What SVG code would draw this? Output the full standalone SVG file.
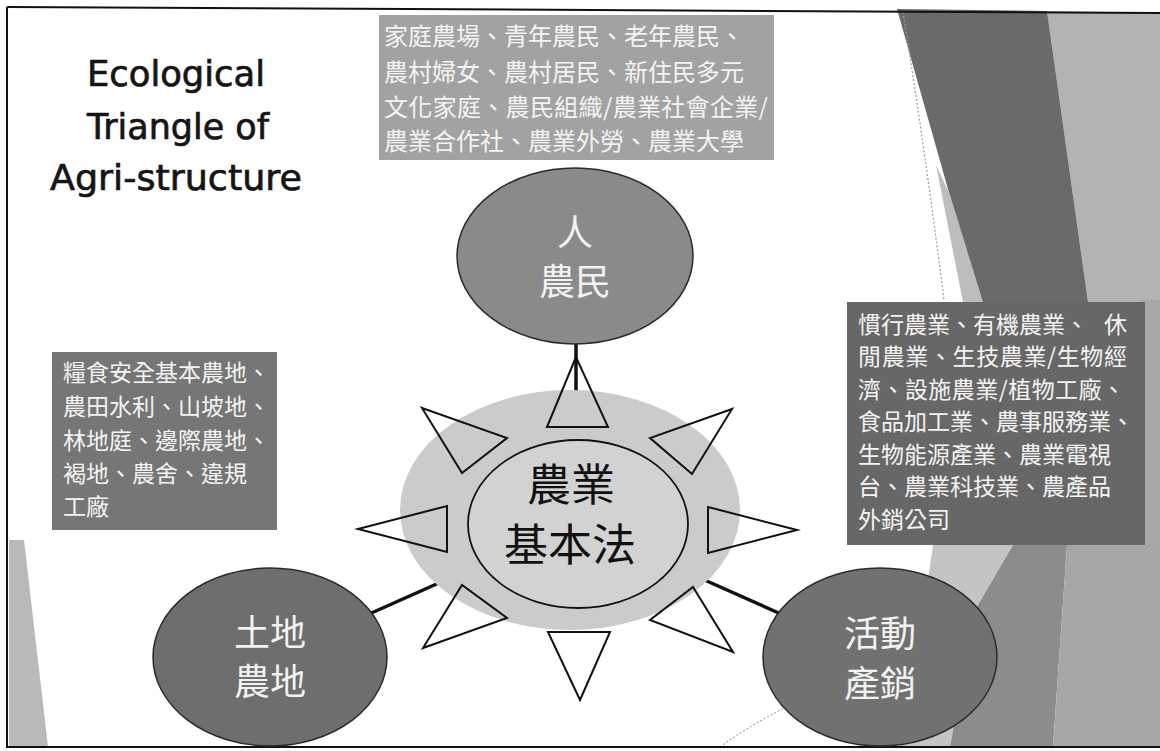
<svg xmlns="http://www.w3.org/2000/svg" width="1160" height="751" viewBox="0 0 1160 751">
<style>
.title{font-family:"DejaVu Sans","Liberation Sans",sans-serif;font-size:35px;fill:#151515;stroke:#151515;stroke-width:0.7;text-anchor:middle}
.cjk{font-family:"Noto Sans CJK TC","Noto Sans CJK SC",sans-serif}
.boxtxt{fill:#f4f4f4}
.lbl{font-family:"Noto Sans CJK TC","Noto Sans CJK SC",sans-serif;font-size:36px;fill:#f2f2f2;text-anchor:middle}
.ctr{font-family:"Noto Sans CJK TC","Noto Sans CJK SC",sans-serif;font-size:44px;fill:#111;text-anchor:middle}
.oval{stroke:#2a2a2a;stroke-width:1.5}
.tri{fill:none;stroke:#111;stroke-width:2;stroke-linejoin:miter}
.conn{stroke:#111;stroke-width:3.5;fill:none}
</style>
<rect width="1160" height="751" fill="#ffffff"/>
<g id="background">
  <polygon points="1047,11 1160,13 1160,302 1088,302" fill="#b3b3b3"/>
  <polygon points="897,9 1047,11 1088,302 980,302" fill="#6a6a6a"/>
  <polygon points="936,165 950,195 983,302 963,302" fill="#bdbdbd"/>
  <polygon points="1140,300 1160,300 1160,548 1140,548" fill="#a8a8a8"/>
  <polygon points="933,545 1013,545 975,610 950,747 900,747 925,600" fill="#c4c4c4"/>
  <polygon points="1013,545 1067,545 1053,747 950,747 975,610" fill="#8c8c8c"/>
  <polygon points="1067,545 1160,545 1160,747 1053,747" fill="#a6a6a6"/>
  <polygon points="9,540 24,540 48,747 9,747" fill="#b9b9b9"/>
  <path d="M903,12 Q925,150 944,300" stroke="#9a9a9a" stroke-width="1.2" stroke-dasharray="2 2" fill="none"/>
  <path d="M720,747 Q750,725 790,705" stroke="#aaaaaa" stroke-width="1.2" stroke-dasharray="2 2" fill="none"/>
</g>
<g id="frame" stroke="#111" stroke-width="2" fill="none">
  <line x1="7" y1="7" x2="1160" y2="13"/>
  <line x1="7" y1="7" x2="7" y2="748"/>
  <line x1="7" y1="747" x2="1160" y2="747"/>
</g>
<g id="title">
  <text class="title" x="176" y="86" textLength="178" lengthAdjust="spacingAndGlyphs">Ecological</text>
  <text class="title" x="178" y="139" textLength="182" lengthAdjust="spacingAndGlyphs">Triangle of</text>
  <text class="title" x="176" y="190" textLength="252" lengthAdjust="spacingAndGlyphs">Agri-structure</text>
</g>
<g id="box-people">
  <rect x="379" y="15" width="395" height="145" fill="#a2a2a2"/>
  <text class="cjk boxtxt" font-size="24">
    <tspan x="384" y="45">家庭農場、青年農民、老年農民、</tspan>
    <tspan x="384" y="81">農村婦女、農村居民、新住民多元</tspan>
    <tspan x="384" y="116" textLength="384">文化家庭、農民組織/農業社會企業/</tspan>
    <tspan x="384" y="150">農業合作社、農業外勞、農業大學</tspan>
  </text>
</g>
<g id="box-land">
  <rect x="52" y="352" width="225" height="178" fill="#767676"/>
  <text class="cjk boxtxt" font-size="23">
    <tspan x="63" y="381">糧食安全基本農地、</tspan>
    <tspan x="63" y="415">農田水利、山坡地、</tspan>
    <tspan x="63" y="449">林地庭、邊際農地、</tspan>
    <tspan x="63" y="482">褐地、農舍、違規</tspan>
    <tspan x="63" y="515">工廠</tspan>
  </text>
</g>
<g id="box-activity">
  <rect x="847" y="302" width="298" height="243" fill="#676767"/>
  <text class="cjk boxtxt" font-size="23">
    <tspan x="858" y="333">慣行農業、有機農業、</tspan><tspan x="1104" y="333">休</tspan>
    <tspan x="858" y="365" textLength="269">閒農業、生技農業/生物經</tspan>
    <tspan x="858" y="398" textLength="267">濟、設施農業/植物工廠、</tspan>
    <tspan x="858" y="430">食品加工業、農事服務業、</tspan>
    <tspan x="858" y="463">生物能源產業、農業電視</tspan>
    <tspan x="858" y="495">台、農業科技業、農產品</tspan>
    <tspan x="858" y="528">外銷公司</tspan>
  </text>
</g>
<g id="connectors">
  <line class="conn" x1="576" y1="330" x2="576" y2="392"/>
  <line class="conn" x1="340" y1="627" x2="450" y2="578"/>
  <line class="conn" x1="700" y1="578" x2="790" y2="618"/>
</g>
<g id="node-people">
  <ellipse class="oval" cx="575" cy="256" rx="118" ry="88" fill="#8a8a8a"/>
  <text class="lbl"><tspan x="575" y="246">人</tspan><tspan x="575" y="295">農民</tspan></text>
</g>
<g id="node-land">
  <ellipse class="oval" cx="270" cy="657" rx="117" ry="89" fill="#6e6e6e"/>
  <text class="lbl"><tspan x="270" y="646">土地</tspan><tspan x="270" y="695">農地</tspan></text>
</g>
<g id="node-activity">
  <ellipse class="oval" cx="880" cy="657" rx="117" ry="89" fill="#717171"/>
  <text class="lbl"><tspan x="880" y="647">活動</tspan><tspan x="880" y="697">產銷</tspan></text>
</g>
<g id="node-center">
  <ellipse cx="570" cy="510" rx="170" ry="120" fill="#cbcbcb"/>
  <ellipse cx="578" cy="524" rx="110" ry="84" fill="#d2d2d2" stroke="#111" stroke-width="1.8"/>
  <polygon class="tri" points="576,357 547,427 608,427"/>
  <polygon class="tri" points="422,408 507,438 462,473"/>
  <polygon class="tri" points="732,409 650,438 692,474"/>
  <polygon class="tri" points="358,529 447,506 447,552"/>
  <polygon class="tri" points="797,530 708,507 708,553"/>
  <polygon class="tri" points="423,648 462,585 507,618"/>
  <polygon class="tri" points="733,652 693,587 650,620"/>
  <polygon class="tri" points="580,700 548,632 610,632"/>
  <text class="ctr"><tspan x="571" y="501">農業</tspan><tspan x="570" y="561">基本法</tspan></text>
</g>
</svg>
